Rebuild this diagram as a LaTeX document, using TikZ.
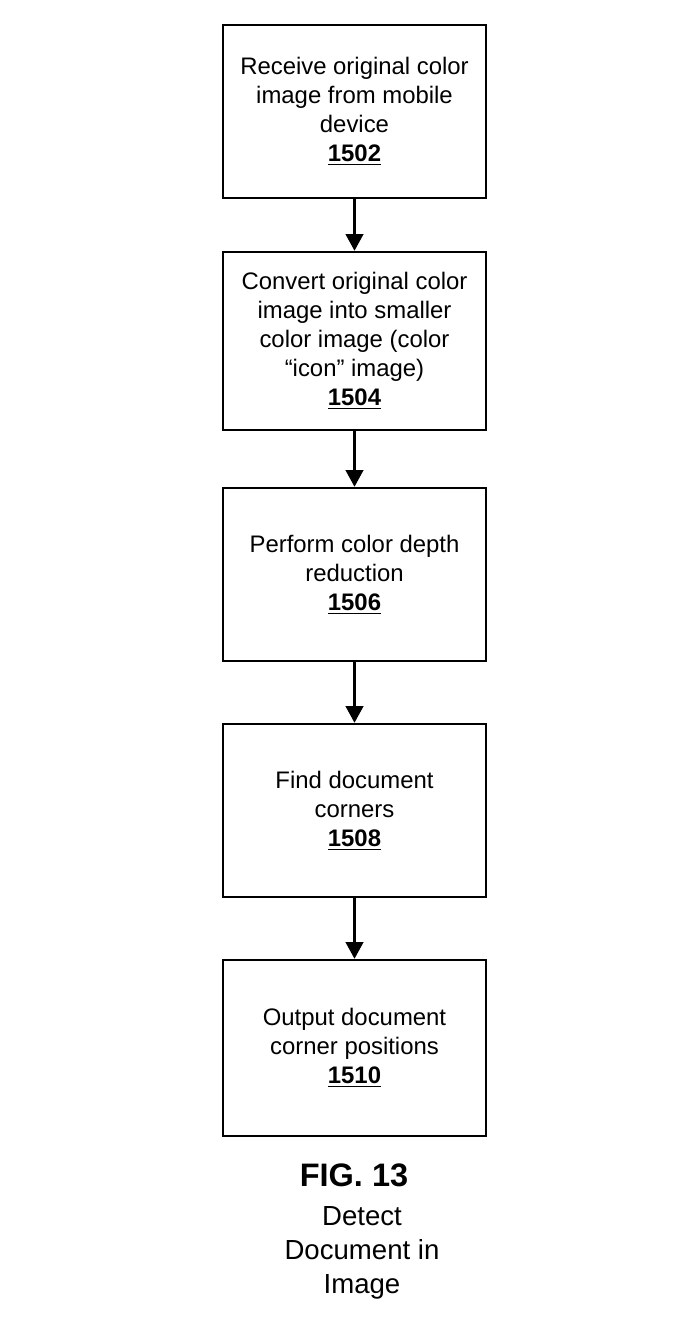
\documentclass[tikz,border=0pt]{standalone}
\usepackage{fontspec}
\setmainfont{Liberation Sans}
\usepackage{tikz}
\usetikzlibrary{positioning, arrows.meta}

\begin{document}
\begin{tikzpicture}[line width=1.4pt]
	\tikzset{arrow/.style={-{Triangle[width=10pt, length=9.5pt]}}}
	\tikzset{stepbox/.style={draw, rectangle, minimum width=5.26cm, minimum height=3.46cm, align=center, font=\fontsize{13.6}{16.5}\selectfont}}
	\tikzset{caption/.style={align=center, font=\fontsize{15.7}{19.3}\selectfont}}
	\newcommand{\refnum}[1]{\underline{\textbf{#1}}}

	\useasboundingbox (0,0) rectangle (13.52,-26.64);

	\node (s1502) [stepbox] at (7.09,-2.23) {Receive original color\\ image from mobile\\ device\\ \refnum{1502}};
	\node (s1504) [stepbox, minimum height=3.56cm] at (7.09,-6.82) {Convert original color\\ image into smaller\\ color image (color\\ ``icon'' image)\\ \refnum{1504}};
	\node (s1506) [stepbox] at (7.09,-11.49) {Perform color depth\\ reduction\\ \refnum{1506}};
	\node (s1508) [stepbox] at (7.09,-16.21) {Find document\\ corners\\ \refnum{1508}};
	\node (s1510) [stepbox, minimum height=3.52cm] at (7.09,-20.96) {Output document\\ corner positions\\ \refnum{1510}};

	\node (fig) [font=\fontsize{18.5}{22}\selectfont\bfseries] at (7.08,-23.5) {FIG. 13};
	\node (title) [caption] at (7.24,-25.06) {Detect\\ Document in\\ Image};

	\draw [arrow] (s1502) -- (s1504);
	\draw [arrow] (s1504) -- (s1506);
	\draw [arrow] (s1506) -- (s1508);
	\draw [arrow] (s1508) -- (s1510);
\end{tikzpicture}
\end{document}
